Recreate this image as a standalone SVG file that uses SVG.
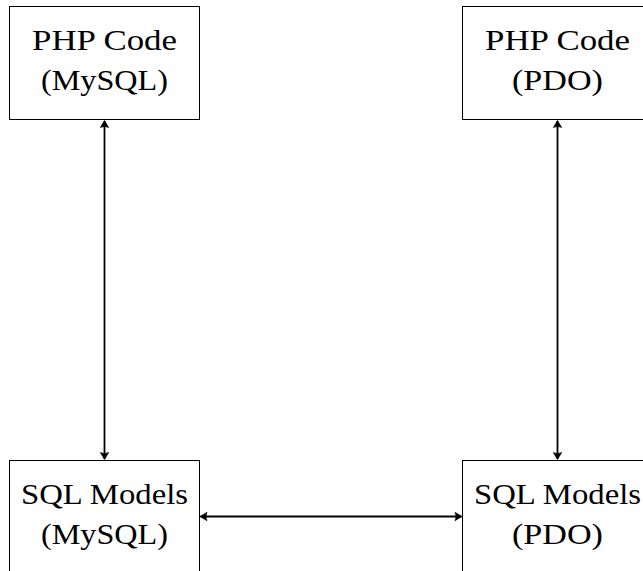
<svg xmlns="http://www.w3.org/2000/svg" width="643" height="571" viewBox="0 0 643 571">
<style>
.box{fill:#fff;stroke:#000;stroke-width:1}
.lbl{font-family:"Liberation Serif","DejaVu Serif",serif;font-size:29px;fill:#000;text-anchor:middle}
.conn{stroke:#000;stroke-width:1.8;fill:none;marker-start:url(#ah);marker-end:url(#ah)}
</style>
<defs>
<marker id="ah" viewBox="-8 -6 10 12" refX="0" refY="0" markerWidth="10" markerHeight="12" markerUnits="userSpaceOnUse" orient="auto-start-reverse">
<path d="M0.5,0 L-6.5,-4.2 Q-4.5,0 -6.5,4.2 Z" fill="#000" stroke="#000" stroke-width="0.6" stroke-linejoin="round"/>
</marker>
</defs>
<g id="php-mysql">
<rect class="box" x="9.5" y="6.5" width="190" height="113"/>
<text class="lbl" x="104.5" y="50" textLength="145" lengthAdjust="spacingAndGlyphs">PHP Code</text>
<text class="lbl" x="104.5" y="90" textLength="127" lengthAdjust="spacingAndGlyphs">(MySQL)</text>
</g>
<g id="php-pdo">
<rect class="box" x="462.5" y="6.5" width="190" height="113"/>
<text class="lbl" x="557.5" y="50" textLength="145" lengthAdjust="spacingAndGlyphs">PHP Code</text>
<text class="lbl" x="557.5" y="90" textLength="91" lengthAdjust="spacingAndGlyphs">(PDO)</text>
</g>
<g id="sql-mysql">
<rect class="box" x="9.5" y="460.5" width="190" height="113"/>
<text class="lbl" x="104.5" y="504" textLength="167" lengthAdjust="spacingAndGlyphs">SQL Models</text>
<text class="lbl" x="104.5" y="544" textLength="127" lengthAdjust="spacingAndGlyphs">(MySQL)</text>
</g>
<g id="sql-pdo">
<rect class="box" x="462.5" y="460.5" width="190" height="113"/>
<text class="lbl" x="557.5" y="504" textLength="167" lengthAdjust="spacingAndGlyphs">SQL Models</text>
<text class="lbl" x="557.5" y="544" textLength="91" lengthAdjust="spacingAndGlyphs">(PDO)</text>
</g>
<g id="connectors">
<line class="conn" x1="104.5" y1="121" x2="104.5" y2="459"/>
<line class="conn" x1="557.5" y1="121" x2="557.5" y2="459"/>
<line class="conn" x1="200.5" y1="516.5" x2="461.5" y2="516.5"/>
</g>
</svg>
